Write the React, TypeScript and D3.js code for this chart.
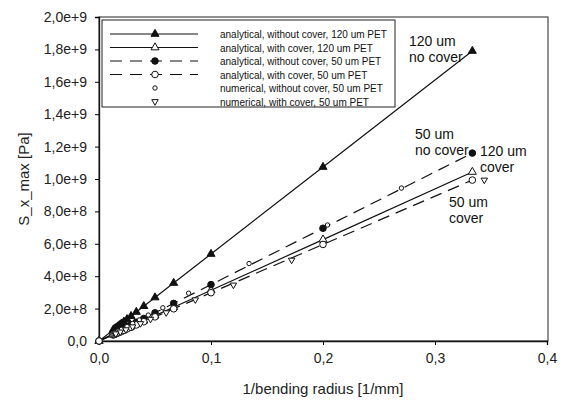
import React, { useEffect, useRef } from "react";
import * as d3 from "d3";

// bending radii (mm) used for analytical curves, x = 1/R
const radii = [3, 5, 10, 15, 20, 25, 30, 35, 40, 45, 50, 55, 60, 65, 70, 75, 80];
const xAnalytical = [0, ...radii.map((r) => 1 / r)].sort((a, b) => a - b);

// slopes (Pa per 1/mm)
const slope120NoCover = 5.37e9;
const slope120Cover = 3.13e9;
const slope50NoCover = 3.48e9;
const slope50Cover = 2.98e9;

const y120NoCover = xAnalytical.map((x) => x * slope120NoCover);
const y120Cover = xAnalytical.map((x) => x * slope120Cover);
const y50NoCover = xAnalytical.map((x) => x * slope50NoCover);
const y50Cover = xAnalytical.map((x) => x * slope50Cover);

// numerical results
const xNumNoCover = [0.27, 0.204, 0.134, 0.08, 0.057, 0.044, 0.036, 0.03, 0.025, 0.02, 0.017, 0.014];
const yNumNoCover = [0.944e9, 0.716e9, 0.478e9, 0.295e9, 0.205e9, 0.16e9, 0.13e9, 0.108e9, 0.09e9, 0.072e9, 0.062e9, 0.05e9];
const xNumCover = [0.344, 0.172, 0.12, 0.086, 0.06, 0.046, 0.037, 0.03, 0.024, 0.019, 0.015];
const yNumCover = [0.994e9, 0.5e9, 0.346e9, 0.255e9, 0.175e9, 0.135e9, 0.108e9, 0.088e9, 0.07e9, 0.056e9, 0.045e9];

const xTicks = [0, 0.1, 0.2, 0.3, 0.4];
const yTicks = [0, 2e8, 4e8, 6e8, 8e8, 1e9, 1.2e9, 1.4e9, 1.6e9, 1.8e9, 2e9];

const legendLabels = [
  "analytical, without cover, 120 um PET",
  "analytical, with cover, 120 um PET",
  "analytical, without cover, 50 um PET",
  "analytical, with cover, 50 um PET",
  "numerical, without cover, 50 um PET",
  "numerical, with cover, 50 um PET",
];

const annotations = [
  { lines: ["120 um", "no cover"], x: 409, y: 46 },
  { lines: ["50 um", "no cover"], x: 415, y: 139 },
  { lines: ["120 um", "cover"], x: 480, y: 156 },
  { lines: ["50 um", "cover"], x: 449, y: 207 },
];

const fmtY = (v) => {
  if (v === 0) return "0,0";
  const e = Math.floor(Math.log10(v) + 1e-9);
  const m = v / Math.pow(10, e);
  return m.toFixed(1).replace(".", ",") + "e+" + e;
};

const App = () => {
  const ref = useRef(null);

  useEffect(() => {
    const svg = d3.select(ref.current);
    svg.selectAll("*").remove();
    const font = "Liberation Sans, Arial, sans-serif";

    const left = 99;
    const right = 547;
    const top = 17;
    const bottom = 341;

    const x = d3.scaleLinear().domain([0, 0.4]).range([left, right]);
    const y = d3.scaleLinear().domain([0, 2e9]).range([bottom, top]);

    svg.append("rect").attr("width", 566).attr("height", 406).attr("fill", "#fff");

    // frame
    svg
      .append("rect")
      .attr("x", left)
      .attr("y", top)
      .attr("width", right - left + 1)
      .attr("height", bottom - top)
      .attr("fill", "none")
      .attr("stroke", "#222")
      .attr("stroke-width", 1);

    const xAxis = svg
      .append("g")
      .attr("transform", `translate(0,${bottom})`)
      .call(
        d3
          .axisBottom(x)
          .tickValues(xTicks)
          .tickSize(4)
          .tickFormat((d) => d3.format(".1f")(d).replace(".", ","))
      );
    xAxis.select(".domain").attr("stroke", "#111").attr("stroke-width", 1.3);
    xAxis.selectAll("text").attr("font-family", font).attr("font-size", 14).attr("fill", "#222").attr("dy", "1.05em");

    const yAxis = svg
      .append("g")
      .attr("transform", `translate(${left},0)`)
      .call(d3.axisLeft(y).tickValues(yTicks).tickSize(4).tickFormat(fmtY));
    yAxis.select(".domain").attr("stroke", "#111").attr("stroke-width", 1.3);
    yAxis.selectAll("text").attr("font-family", font).attr("font-size", 14).attr("fill", "#222").attr("x", -12);

    svg
      .append("text")
      .attr("x", x(0.2))
      .attr("y", 394)
      .attr("text-anchor", "middle")
      .attr("font-family", font)
      .attr("font-size", 15)
      .attr("fill", "#222")
      .text("1/bending radius [1/mm]");

    svg
      .append("text")
      .attr("transform", `translate(29,${(top + bottom) / 2}) rotate(-90)`)
      .attr("text-anchor", "middle")
      .attr("font-family", font)
      .attr("font-size", 15)
      .attr("fill", "#222")
      .text("S_x_max [Pa]");

    const line = d3
      .line()
      .x((d) => x(d[0]))
      .y((d) => y(d[1]));

    const tri = d3.symbol().type(d3.symbolTriangle);
    const drawMarker = (g, kind, px, py) => {
      if (kind === "triFill" || kind === "triOpen") {
        g.append("path")
          .attr("d", tri.size(28)())
          .attr("transform", `translate(${px},${py})`)
          .attr("fill", kind === "triFill" ? "#111" : "#fff")
          .attr("stroke", "#111")
          .attr("stroke-width", 1);
      } else if (kind === "circFill" || kind === "circOpen") {
        g.append("circle")
          .attr("cx", px)
          .attr("cy", py)
          .attr("r", 3.3)
          .attr("fill", kind === "circFill" ? "#111" : "#fff")
          .attr("stroke", "#111")
          .attr("stroke-width", 1);
      } else if (kind === "smallCirc") {
        g.append("circle")
          .attr("cx", px)
          .attr("cy", py)
          .attr("r", 2.2)
          .attr("fill", "#fff")
          .attr("stroke", "#111")
          .attr("stroke-width", 1);
      } else if (kind === "triDown") {
        g.append("path")
          .attr("d", tri.size(18)())
          .attr("transform", `translate(${px},${py}) rotate(180)`)
          .attr("fill", "#fff")
          .attr("stroke", "#111")
          .attr("stroke-width", 1);
      }
    };

    const series = [
      { xs: xAnalytical, ys: y120NoCover, dash: null, marker: "triFill" },
      { xs: xAnalytical, ys: y120Cover, dash: null, marker: "triOpen" },
      { xs: xAnalytical, ys: y50NoCover, dash: "12,7", marker: "circFill" },
      { xs: xAnalytical, ys: y50Cover, dash: "12,7", marker: "circOpen" },
      { xs: xNumNoCover, ys: yNumNoCover, dash: "none", marker: "smallCirc" },
      { xs: xNumCover, ys: yNumCover, dash: "none", marker: "triDown" },
    ];

    const plot = svg.append("g");
    series.forEach((s) => {
      if (s.dash !== "none") {
        plot
          .append("path")
          .datum(s.xs.map((v, i) => [v, s.ys[i]]))
          .attr("d", line)
          .attr("fill", "none")
          .attr("stroke", "#111")
          .attr("stroke-width", 1.2)
          .attr("stroke-dasharray", s.dash);
      }
    });
    series.forEach((s) => {
      s.xs.forEach((v, i) => drawMarker(plot, s.marker, x(v), y(s.ys[i])));
    });

    // legend
    const lg = svg.append("g");
    lg.append("rect")
      .attr("x", 102)
      .attr("y", 20)
      .attr("width", 293)
      .attr("height", 87)
      .attr("fill", "#fff")
      .attr("stroke", "#222")
      .attr("stroke-width", 1);
    series.forEach((s, i) => {
      const ry = 34 + i * 13.5;
      if (s.dash !== "none") {
        lg.append("line")
          .attr("x1", 110)
          .attr("x2", 198)
          .attr("y1", ry)
          .attr("y2", ry)
          .attr("stroke", "#111")
          .attr("stroke-width", 1.2)
          .attr("stroke-dasharray", s.dash ? "12,8" : null);
      }
      drawMarker(lg, s.marker, 155, ry);
      lg.append("text")
        .attr("x", 220)
        .attr("y", ry + 4)
        .attr("font-family", font)
        .attr("font-size", 10)
        .attr("fill", "#111")
        .text(legendLabels[i]);
    });

    // annotations
    annotations.forEach((a) => {
      a.lines.forEach((t, j) => {
        svg
          .append("text")
          .attr("x", a.x)
          .attr("y", a.y + j * 16)
          .attr("font-family", font)
          .attr("font-size", 14)
          .attr("fill", "#111")
          .text(t);
      });
    });
  }, []);

  return <svg ref={ref} width={566} height={406} style={{ position: "absolute", left: 0, top: 0 }} />;
};

export default App;
